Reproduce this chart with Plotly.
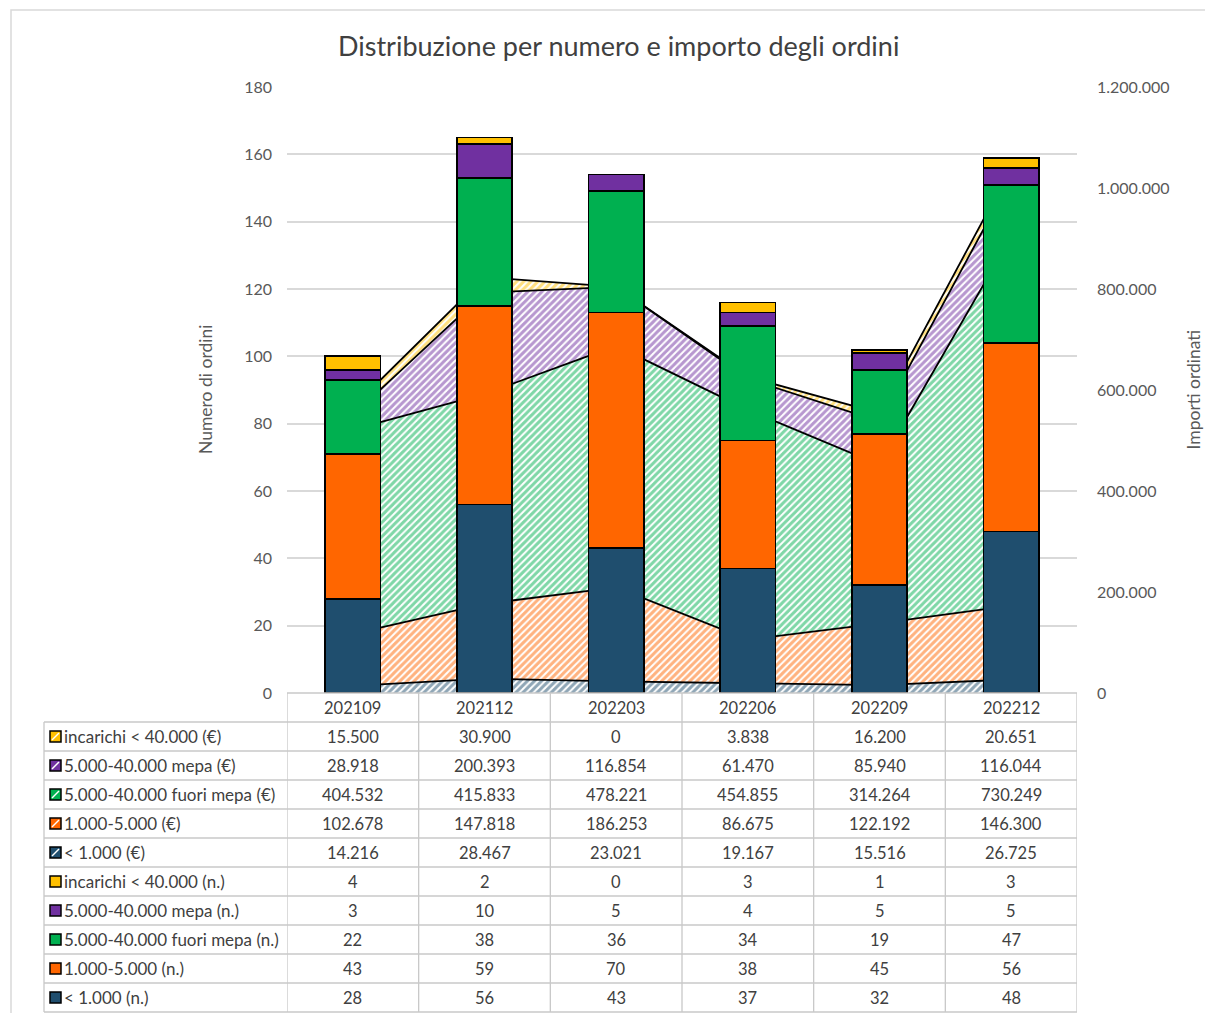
import plotly.graph_objects as go

# ---------------- data ----------------
periods = ["202109", "202112", "202203", "202206", "202209", "202212"]

series_labels = ["< 1.000", "1.000-5.000", "5.000-40.000 fuori mepa",
                 "5.000-40.000 mepa", "incarichi < 40.000"]

# number of orders (n.)
n_lt1k = [28, 56, 43, 37, 32, 48]
n_1k_5k = [43, 59, 70, 38, 45, 56]
n_fuori_mepa = [22, 38, 36, 34, 19, 47]
n_mepa = [3, 10, 5, 4, 5, 5]
n_incarichi = [4, 2, 0, 3, 1, 3]

# amounts (€)
eur_lt1k = [14216, 28467, 23021, 19167, 15516, 26725]
eur_1k_5k = [102678, 147818, 186253, 86675, 122192, 146300]
eur_fuori_mepa = [404532, 415833, 478221, 454855, 314264, 730249]
eur_mepa = [28918, 200393, 116854, 61470, 85940, 116044]
eur_incarichi = [15500, 30900, 0, 3838, 16200, 20651]

left_ticks = [0, 20, 40, 60, 80, 100, 120, 140, 160, 180]
right_ticks = [0, 200000, 400000, 600000, 800000, 1000000, 1200000]

counts = [n_lt1k, n_1k_5k, n_fuori_mepa, n_mepa, n_incarichi]
amounts = [eur_lt1k, eur_1k_5k, eur_fuori_mepa, eur_mepa, eur_incarichi]
colors = ["#1F4E6E", "#FF6600", "#00B050", "#7030A0", "#FFC000"]

# ---------------- layout geometry (screen pixels) ----------------
OFF = 8                      # page body margin
W, H = 1213 - 2 * OFF, 1021 - 2 * OFF
PL, PR, PT, PB = 287, 1077, 87, 693
TL = 44          # table left edge
ROW_H = 29.0

def px(x):
    return (x - OFF) / W

def py(y):
    return 1 - (y - OFF) / H

FONT = "Lato"
TXT = "#404040"
AX = "#595959"
NCOL = len(periods)

def col_center(i):
    return px(PL + (i + 0.5) * (PR - PL) / NCOL)

fig = go.Figure()

# stacked hatched areas (amounts) on primary axis (right side)
for name, vals, col in zip(series_labels, amounts, colors):
    fig.add_trace(go.Scatter(
        x=periods, y=vals, name=name + " (€)", mode="lines",
        stackgroup="amt", xaxis="x", yaxis="y",
        line=dict(color="black", width=1.8),
        fillcolor="white",
        fillpattern=dict(shape="/", fgcolor=col, bgcolor="white",
                         size=5, solidity=0.6),
        hoverinfo="skip", showlegend=False,
    ))

# stacked bars (counts) on overlaid axis (left side)
for name, vals, col in zip(series_labels, counts, colors):
    fig.add_trace(go.Bar(
        x=periods, y=vals, name=name + " (n.)", xaxis="x", yaxis="y2",
        marker=dict(color=col, line=dict(color="black", width=1.8)),
        width=0.42, showlegend=False,
    ))

shapes = []
annotations = []

# chart border
shapes.append(dict(type="rect", xref="paper", yref="paper",
                   x0=px(11), x1=px(1240), y0=py(10), y1=py(1050),
                   line=dict(color="#D9D9D9", width=1.5), fillcolor="rgba(0,0,0,0)",
                   layer="below"))

# ---------------- data table ----------------
table_rows = []
for name, vals, col in reversed(list(zip(series_labels, amounts, colors))):
    table_rows.append((name + " (€)", vals, col, True))
for name, vals, col in reversed(list(zip(series_labels, counts, colors))):
    table_rows.append((name + " (n.)", vals, col, False))

grid_col = "#C8C8C8"
n_rows = len(table_rows)
top = PB
header_bot = top + ROW_H
bottom = header_bot + n_rows * ROW_H

# vertical lines of data columns (category boundaries)
for i in range(NCOL + 1):
    shapes.append(dict(type="line", xref="x", yref="paper",
                       x0=i - 0.5, x1=i - 0.5, y0=py(top), y1=py(bottom),
                       line=dict(color=grid_col, width=1.3)))
# left border of label column
shapes.append(dict(type="line", xref="paper", yref="paper",
                   x0=px(TL), x1=px(TL), y0=py(header_bot), y1=py(bottom),
                   line=dict(color=grid_col, width=1.3)))
# top line of header
shapes.append(dict(type="line", xref="paper", yref="paper",
                   x0=px(PL), x1=px(PR), y0=py(top), y1=py(top),
                   line=dict(color=grid_col, width=1.3)))
# row lines
for r in range(n_rows + 1):
    yy = header_bot + r * ROW_H
    shapes.append(dict(type="line", xref="paper", yref="paper",
                       x0=px(TL), x1=px(PR), y0=py(yy), y1=py(yy),
                       line=dict(color=grid_col, width=1.3)))

# header labels
for i, p in enumerate(periods):
    annotations.append(dict(x=col_center(i), xref="paper", y=py(top + ROW_H / 2),
                            yref="paper", xanchor="center", yanchor="middle",
                            text=p, showarrow=False,
                            font=dict(family=FONT, size=16.5, color=TXT)))

def fmt(v):
    return f"{v:,}".replace(",", ".")

for r, (label, vals, col, hatched) in enumerate(table_rows):
    yc = header_bot + r * ROW_H + ROW_H / 2
    # legend key
    shapes.append(dict(type="rect", xref="paper", yref="paper",
                       x0=px(50), x1=px(61), y0=py(yc + 5.5), y1=py(yc - 5.5),
                       fillcolor=col, line=dict(color="black", width=1.5)))
    if hatched:
        shapes.append(dict(type="line", xref="paper", yref="paper",
                           x0=px(52), x1=px(59), y0=py(yc + 3.5), y1=py(yc - 3.5),
                           line=dict(color="white", width=1.5)))
    annotations.append(dict(x=px(62), xref="paper", y=py(yc), yref="paper",
                            text=label, showarrow=False,
                            xanchor="left", yanchor="middle",
                            font=dict(family=FONT, size=17, color=TXT)))
    for i, v in enumerate(vals):
        annotations.append(dict(x=col_center(i), xref="paper", y=py(yc), yref="paper",
                                text=fmt(v), showarrow=False,
                                xanchor="center", yanchor="middle",
                                font=dict(family=FONT, size=16.5, color=TXT)))

# axis titles
annotations.append(dict(x=px(205), xref="paper", y=py((PT + PB) / 2), yref="paper",
                        text="Numero di ordini", textangle=-90, showarrow=False,
                        xanchor="center", yanchor="middle",
                        font=dict(family=FONT, size=17.5, color=AX)))
annotations.append(dict(x=1.0, xref="paper", y=py((PT + PB) / 2), yref="paper",
                        text="Importi ordinati", textangle=-90, showarrow=False,
                        xanchor="right", yanchor="middle",
                        font=dict(family=FONT, size=17.5, color=AX)))
# title
annotations.append(dict(x=px(618), xref="paper", y=py(45), yref="paper",
                        text="Distribuzione per numero e importo degli ordini",
                        showarrow=False, xanchor="center", yanchor="middle",
                        font=dict(family=FONT, size=27, color=TXT)))

fig.update_layout(
    width=W, height=H, autosize=False,
    margin=dict(l=0, r=0, t=0, b=0, autoexpand=False),
    paper_bgcolor="white", plot_bgcolor="white",
    barmode="stack", separators=",.",
    showlegend=False,
    font=dict(family=FONT, size=16, color=AX),
    xaxis=dict(type="category", domain=[px(PL), px(PR)], range=[-0.5, 5.5],
               showticklabels=False, showgrid=False, zeroline=False,
               showline=False, ticks="", automargin=False),
    yaxis=dict(side="right", range=[0, 1200000], tickvals=right_ticks,
               tickformat=",d", domain=[py(PB), py(PT)], anchor="x",
               showgrid=False, zeroline=False, showline=False, ticks="",
               ticklabelstandoff=19, automargin=False,
               tickfont=dict(family=FONT, size=16, color=AX)),
    yaxis2=dict(side="left", overlaying="y", range=[0, 180], tickvals=left_ticks,
                anchor="x", showgrid=True, gridcolor="#D9D9D9", gridwidth=1.5,
                zeroline=False, showline=False, ticks="",
                ticklabelstandoff=14, automargin=False,
                tickfont=dict(family=FONT, size=16, color=AX)),
    shapes=shapes, annotations=annotations,
)

fig.write_html("out.html")
